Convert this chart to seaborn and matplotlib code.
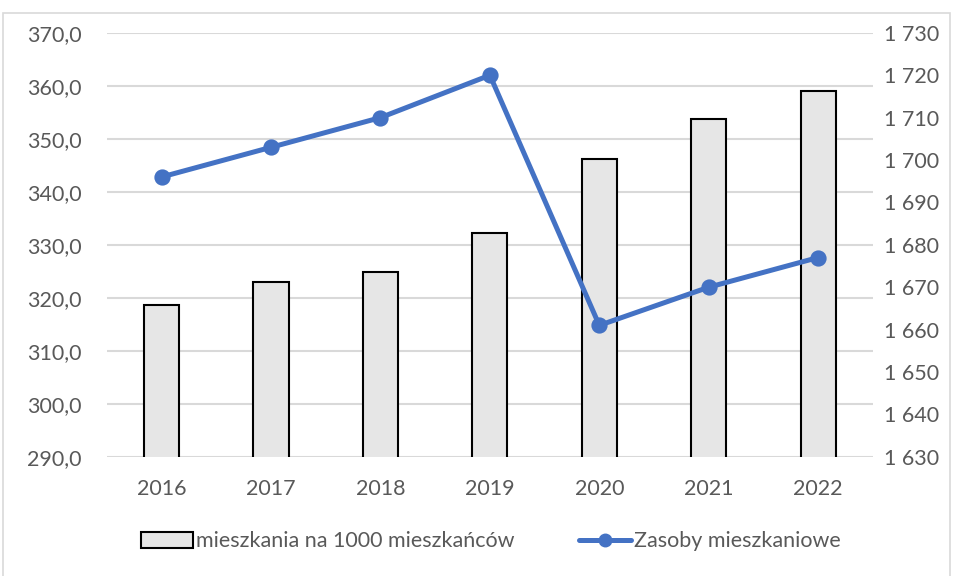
import matplotlib
matplotlib.use("Agg")
import matplotlib.pyplot as plt
import matplotlib.ticker as mticker
from matplotlib.patches import Rectangle
from matplotlib.lines import Line2D
import seaborn as sns
import numpy as np
import pandas as pd

years = ["2016", "2017", "2018", "2019", "2020", "2021", "2022"]
per_1000 = [318.7, 323.0, 324.9, 332.3, 346.2, 353.8, 359.1]
stock = [1696, 1703, 1710, 1720, 1661, 1670, 1677]

df = pd.DataFrame({"rok": years, "per_1000": per_1000, "stock": stock})

sns.set_theme(style="white")
plt.rcParams["font.family"] = ["Lato", "DejaVu Sans"]

FS = 15.5
fig = plt.figure(figsize=(9.54, 5.76), dpi=100)
ax = fig.add_axes([0.112, 0.207, 0.803, 0.736])

sns.barplot(data=df, x="rok", y="per_1000", ax=ax, color="#e6e6e6",
            edgecolor="black", linewidth=1.5, width=0.32, saturation=1, zorder=2)
ax.set_ylim(290, 370)
ax.set_yticks(np.arange(290, 371, 10))
ax.yaxis.set_major_formatter(mticker.FuncFormatter(lambda v, p: f"{v:.1f}".replace(".", ",")))
ax.grid(axis="y", color="#d9d9d9", linewidth=1.5, zorder=0)
ax.set_axisbelow(True)
for s in ax.spines.values():
    s.set_visible(False)
ax.set_xlabel("")
ax.set_ylabel("")
ax.tick_params(axis="both", length=0, labelsize=FS, colors="#595959")
ax.tick_params(axis="y", pad=18)
ax.tick_params(axis="x", pad=16)

ax2 = ax.twinx()
sns.pointplot(data=df, x="rok", y="stock", ax=ax2, color="#4472C4",
              markers="o", markersize=9, linewidth=3.6, zorder=5)
ax2.set_ylim(1630, 1730)
ax2.set_yticks(np.arange(1630, 1731, 10))
ax2.yaxis.set_major_formatter(mticker.FuncFormatter(lambda v, p: f"{int(v):,}".replace(",", " ")))
for s in ax2.spines.values():
    s.set_visible(False)
ax2.set_ylabel("")
ax2.set_xlabel("")
ax2.tick_params(axis="y", length=0, labelsize=FS, colors="#595959", pad=8)
ax2.grid(False)

handles = [Rectangle((0, 0), 1, 1, facecolor="#e6e6e6", edgecolor="black", linewidth=1.5),
           Line2D([0], [0], color="#4472C4", linewidth=3.6, marker="o", markersize=9)]
fig.legend(handles, ["mieszkania na 1000 mieszkańców", "Zasoby mieszkaniowe"],
           loc="center", bbox_to_anchor=(0.515, 0.06), ncol=2, frameon=False,
           fontsize=FS, labelcolor="#595959", handlelength=2.4, handleheight=0.8,
           handletextpad=0.15, columnspacing=3.0)

fig.patches.append(Rectangle((3 / 954, -0.01), 947 / 954, 1 - 13 / 576 + 0.01,
                             transform=fig.transFigure, fill=False,
                             edgecolor="#d9d9d9", linewidth=1.2))

fig.savefig("out.png", dpi=100)
